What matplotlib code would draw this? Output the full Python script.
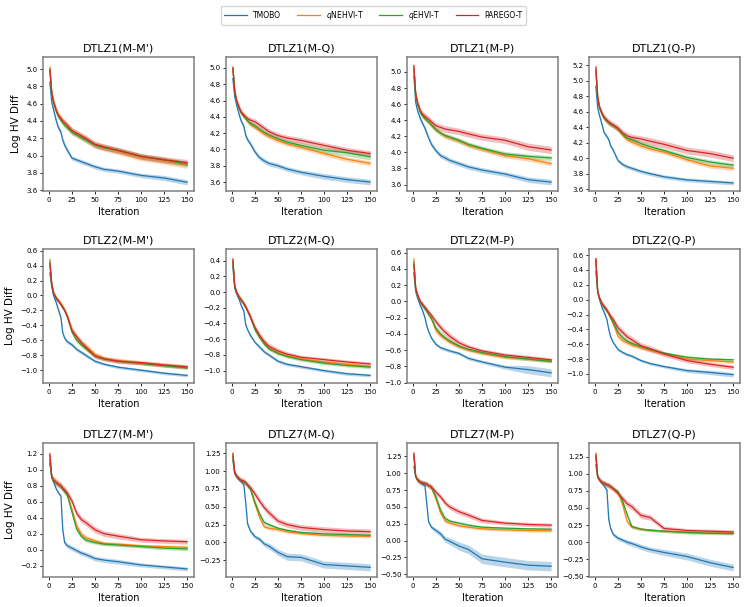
import matplotlib
matplotlib.use('Agg')
import matplotlib.pyplot as plt
from matplotlib.ticker import MultipleLocator
import numpy as np

iters = [1, 3, 5, 8, 10, 13, 15, 17, 20, 25, 30, 35, 40, 50, 60, 75, 100, 125, 150]

methods = ['TMOBO', '$q$NEHVI-T', '$q$EHVI-T', 'PAREGO-T']
colors = ['tab:blue', 'tab:orange', 'tab:green', 'tab:red']

titles = ["DTLZ1(M-M')", "DTLZ1(M-Q)", "DTLZ1(M-P)", "DTLZ1(Q-P)",
          "DTLZ2(M-M')", "DTLZ2(M-Q)", "DTLZ2(M-P)", "DTLZ2(Q-P)",
          "DTLZ7(M-M')", "DTLZ7(M-Q)", "DTLZ7(M-P)", "DTLZ7(Q-P)"]
ytick_step = [0.2, 0.2, 0.2, 0.2, 0.2, 0.2, 0.2, 0.2, 0.2, 0.25, 0.25, 0.25]

# ---- DTLZ1 (M-M') ----
d1mm_tm = [4.85, 4.62, 4.53, 4.40, 4.33, 4.27, 4.18, 4.12, 4.06, 3.97, 3.95, 3.93, 3.91, 3.87, 3.84, 3.82, 3.77, 3.74, 3.69]
d1mm_ne = [5.02, 4.74, 4.63, 4.52, 4.47, 4.42, 4.40, 4.37, 4.34, 4.28, 4.25, 4.22, 4.19, 4.12, 4.09, 4.05, 3.98, 3.94, 3.89]
d1mm_eh = [4.98, 4.72, 4.61, 4.51, 4.46, 4.41, 4.38, 4.35, 4.32, 4.27, 4.24, 4.21, 4.18, 4.12, 4.09, 4.06, 3.99, 3.95, 3.90]
d1mm_pa = [5.00, 4.73, 4.62, 4.52, 4.47, 4.43, 4.40, 4.38, 4.35, 4.29, 4.26, 4.23, 4.20, 4.13, 4.10, 4.06, 3.99, 3.95, 3.92]
d1mm_tm_b = [0.05, 0.04, 0.03, 0.03, 0.03, 0.03, 0.03, 0.03, 0.03, 0.025, 0.025, 0.025, 0.025, 0.025, 0.025, 0.025, 0.025, 0.03, 0.03]
d1mm_ne_b = [0.05, 0.04, 0.04, 0.04, 0.04, 0.04, 0.04, 0.04, 0.04, 0.04, 0.04, 0.04, 0.04, 0.04, 0.04, 0.04, 0.04, 0.04, 0.04]
d1mm_eh_b = [0.05, 0.03, 0.03, 0.03, 0.03, 0.03, 0.03, 0.03, 0.03, 0.03, 0.03, 0.03, 0.03, 0.03, 0.03, 0.03, 0.03, 0.03, 0.03]
d1mm_pa_b = [0.05, 0.035, 0.035, 0.035, 0.035, 0.035, 0.035, 0.035, 0.035, 0.035, 0.035, 0.035, 0.035, 0.035, 0.035, 0.035, 0.035, 0.035, 0.035]

# ---- DTLZ1 (M-Q) ----
d1mq_tm = [4.87, 4.65, 4.55, 4.42, 4.35, 4.28, 4.17, 4.12, 4.07, 3.97, 3.90, 3.86, 3.83, 3.80, 3.76, 3.72, 3.67, 3.63, 3.60]
d1mq_ne = [5.01, 4.72, 4.60, 4.50, 4.45, 4.41, 4.38, 4.35, 4.31, 4.27, 4.23, 4.19, 4.16, 4.11, 4.07, 4.03, 3.95, 3.88, 3.83]
d1mq_eh = [4.99, 4.71, 4.59, 4.50, 4.45, 4.41, 4.38, 4.35, 4.32, 4.29, 4.25, 4.21, 4.18, 4.13, 4.09, 4.05, 3.99, 3.96, 3.91]
d1mq_pa = [5.00, 4.72, 4.60, 4.51, 4.46, 4.42, 4.40, 4.38, 4.36, 4.34, 4.30, 4.26, 4.22, 4.17, 4.14, 4.11, 4.05, 3.99, 3.95]
d1mq_tm_b = [0.05, 0.04, 0.03, 0.03, 0.03, 0.03, 0.03, 0.03, 0.03, 0.03, 0.03, 0.03, 0.03, 0.03, 0.03, 0.03, 0.035, 0.035, 0.035]
d1mq_ne_b = [0.05, 0.03, 0.03, 0.03, 0.03, 0.03, 0.03, 0.03, 0.03, 0.03, 0.03, 0.03, 0.03, 0.03, 0.03, 0.03, 0.03, 0.03, 0.03]
d1mq_eh_b = [0.05, 0.03, 0.03, 0.03, 0.03, 0.03, 0.03, 0.03, 0.03, 0.03, 0.03, 0.03, 0.03, 0.03, 0.03, 0.035, 0.035, 0.04, 0.04]
d1mq_pa_b = [0.05, 0.035, 0.035, 0.035, 0.035, 0.035, 0.035, 0.035, 0.035, 0.035, 0.035, 0.035, 0.035, 0.035, 0.035, 0.035, 0.035, 0.035, 0.035]

# ---- DTLZ1 (M-P) ----
d1mp_tm = [4.95, 4.62, 4.52, 4.42, 4.37, 4.30, 4.24, 4.18, 4.10, 4.02, 3.96, 3.93, 3.90, 3.86, 3.82, 3.78, 3.73, 3.66, 3.63]
d1mp_ne = [5.06, 4.72, 4.60, 4.50, 4.46, 4.42, 4.40, 4.38, 4.34, 4.28, 4.24, 4.20, 4.18, 4.14, 4.09, 4.04, 3.96, 3.92, 3.86]
d1mp_eh = [5.04, 4.71, 4.60, 4.50, 4.46, 4.42, 4.40, 4.38, 4.34, 4.28, 4.24, 4.21, 4.19, 4.15, 4.10, 4.05, 3.98, 3.95, 3.93]
d1mp_pa = [5.08, 4.73, 4.62, 4.52, 4.48, 4.45, 4.43, 4.41, 4.38, 4.33, 4.31, 4.29, 4.28, 4.26, 4.23, 4.19, 4.15, 4.07, 4.03]
d1mp_tm_b = [0.04, 0.04, 0.03, 0.03, 0.03, 0.03, 0.03, 0.03, 0.03, 0.03, 0.03, 0.03, 0.03, 0.03, 0.03, 0.03, 0.03, 0.035, 0.035]
d1mp_ne_b = [0.03, 0.03, 0.03, 0.03, 0.03, 0.03, 0.03, 0.03, 0.03, 0.03, 0.03, 0.03, 0.03, 0.03, 0.03, 0.03, 0.03, 0.03, 0.03]
d1mp_eh_b = [0.03, 0.03, 0.03, 0.03, 0.03, 0.03, 0.03, 0.03, 0.03, 0.03, 0.03, 0.03, 0.03, 0.03, 0.03, 0.03, 0.03, 0.03, 0.03]
d1mp_pa_b = [0.03, 0.04, 0.04, 0.04, 0.04, 0.04, 0.04, 0.04, 0.04, 0.04, 0.04, 0.04, 0.04, 0.04, 0.04, 0.04, 0.04, 0.045, 0.045]

# ---- DTLZ1 (Q-P) ----
d1qp_tm = [4.93, 4.65, 4.55, 4.42, 4.33, 4.28, 4.24, 4.16, 4.10, 3.97, 3.92, 3.89, 3.87, 3.83, 3.80, 3.76, 3.72, 3.70, 3.68]
d1qp_ne = [5.15, 4.78, 4.65, 4.56, 4.52, 4.48, 4.46, 4.44, 4.42, 4.37, 4.30, 4.24, 4.21, 4.16, 4.12, 4.08, 3.98, 3.90, 3.87]
d1qp_eh = [5.12, 4.77, 4.65, 4.56, 4.52, 4.48, 4.46, 4.44, 4.42, 4.38, 4.31, 4.26, 4.24, 4.19, 4.15, 4.10, 4.01, 3.95, 3.91]
d1qp_pa = [5.18, 4.79, 4.66, 4.57, 4.53, 4.49, 4.47, 4.45, 4.43, 4.39, 4.33, 4.29, 4.27, 4.25, 4.22, 4.18, 4.10, 4.06, 4.00]
d1qp_tm_b = [0.05, 0.03, 0.025, 0.025, 0.025, 0.025, 0.025, 0.025, 0.025, 0.025, 0.025, 0.025, 0.025, 0.025, 0.025, 0.025, 0.025, 0.025, 0.025]
d1qp_ne_b = [0.05, 0.03, 0.03, 0.03, 0.03, 0.03, 0.03, 0.03, 0.03, 0.03, 0.03, 0.03, 0.03, 0.03, 0.03, 0.03, 0.03, 0.03, 0.03]
d1qp_eh_b = [0.05, 0.03, 0.03, 0.03, 0.03, 0.03, 0.03, 0.03, 0.03, 0.03, 0.03, 0.03, 0.03, 0.03, 0.03, 0.03, 0.03, 0.03, 0.03]
d1qp_pa_b = [0.05, 0.04, 0.04, 0.04, 0.04, 0.04, 0.04, 0.04, 0.04, 0.04, 0.04, 0.04, 0.04, 0.04, 0.045, 0.045, 0.045, 0.045, 0.045]

# ---- DTLZ2 (M-M') ----
d2mm_tm = [0.30, 0.12, 0.00, -0.10, -0.18, -0.30, -0.50, -0.57, -0.62, -0.66, -0.72, -0.76, -0.80, -0.88, -0.92, -0.96, -1.00, -1.04, -1.07]
d2mm_ne = [0.48, 0.16, 0.04, -0.03, -0.06, -0.11, -0.15, -0.19, -0.28, -0.46, -0.56, -0.63, -0.68, -0.79, -0.84, -0.87, -0.90, -0.93, -0.955]
d2mm_eh = [0.45, 0.15, 0.03, -0.04, -0.07, -0.12, -0.16, -0.20, -0.29, -0.49, -0.60, -0.66, -0.71, -0.81, -0.85, -0.88, -0.91, -0.94, -0.97]
d2mm_pa = [0.42, 0.15, 0.03, -0.04, -0.07, -0.12, -0.16, -0.20, -0.28, -0.47, -0.55, -0.63, -0.69, -0.81, -0.85, -0.88, -0.90, -0.93, -0.955]
d2mm_tm_b = [0.04, 0.03, 0.025, 0.025, 0.025, 0.025, 0.025, 0.025, 0.025, 0.025, 0.025, 0.025, 0.025, 0.02, 0.02, 0.02, 0.02, 0.02, 0.02]
d2mm_ne_b = [0.06, 0.04, 0.03, 0.03, 0.03, 0.03, 0.03, 0.03, 0.03, 0.04, 0.04, 0.04, 0.04, 0.035, 0.03, 0.03, 0.03, 0.03, 0.03]
d2mm_eh_b = [0.05, 0.03, 0.025, 0.025, 0.025, 0.025, 0.025, 0.025, 0.025, 0.03, 0.03, 0.03, 0.03, 0.025, 0.02, 0.02, 0.02, 0.02, 0.02]
d2mm_pa_b = [0.05, 0.04, 0.03, 0.03, 0.03, 0.03, 0.03, 0.03, 0.035, 0.04, 0.04, 0.04, 0.04, 0.035, 0.03, 0.03, 0.025, 0.025, 0.025]

# ---- DTLZ2 (M-Q) ----
d2mq_tm = [0.33, 0.05, -0.02, -0.10, -0.17, -0.25, -0.42, -0.48, -0.55, -0.64, -0.70, -0.76, -0.80, -0.88, -0.92, -0.95, -1.00, -1.04, -1.06]
d2mq_ne = [0.40, 0.07, -0.01, -0.07, -0.10, -0.15, -0.19, -0.24, -0.32, -0.47, -0.57, -0.65, -0.71, -0.77, -0.81, -0.85, -0.89, -0.92, -0.945]
d2mq_eh = [0.38, 0.07, -0.01, -0.07, -0.10, -0.15, -0.19, -0.24, -0.32, -0.48, -0.58, -0.66, -0.72, -0.78, -0.82, -0.86, -0.905, -0.935, -0.955]
d2mq_pa = [0.42, 0.08, 0.00, -0.07, -0.10, -0.15, -0.19, -0.24, -0.31, -0.45, -0.55, -0.63, -0.69, -0.75, -0.79, -0.83, -0.86, -0.89, -0.915]
d2mq_tm_b = [0.04, 0.025, 0.02, 0.02, 0.02, 0.02, 0.02, 0.02, 0.02, 0.02, 0.02, 0.02, 0.02, 0.02, 0.02, 0.02, 0.02, 0.02, 0.02]
d2mq_ne_b = [0.05, 0.03, 0.03, 0.03, 0.03, 0.03, 0.03, 0.03, 0.03, 0.03, 0.03, 0.03, 0.03, 0.03, 0.025, 0.02, 0.02, 0.02, 0.02]
d2mq_eh_b = [0.05, 0.03, 0.025, 0.025, 0.025, 0.025, 0.025, 0.025, 0.025, 0.025, 0.025, 0.025, 0.025, 0.02, 0.02, 0.02, 0.02, 0.02, 0.02]
d2mq_pa_b = [0.05, 0.035, 0.03, 0.03, 0.03, 0.03, 0.03, 0.03, 0.03, 0.035, 0.035, 0.04, 0.04, 0.035, 0.03, 0.025, 0.025, 0.025, 0.025]

# ---- DTLZ2 (M-P) ----
d2mp_tm = [0.35, 0.12, 0.04, -0.05, -0.10, -0.20, -0.30, -0.37, -0.45, -0.53, -0.57, -0.59, -0.61, -0.64, -0.70, -0.745, -0.81, -0.84, -0.88]
d2mp_ne = [0.52, 0.15, 0.07, -0.01, -0.04, -0.09, -0.12, -0.16, -0.21, -0.36, -0.42, -0.46, -0.50, -0.56, -0.60, -0.64, -0.69, -0.71, -0.73]
d2mp_eh = [0.48, 0.15, 0.07, -0.01, -0.04, -0.09, -0.12, -0.16, -0.21, -0.33, -0.40, -0.45, -0.49, -0.55, -0.59, -0.63, -0.68, -0.71, -0.74]
d2mp_pa = [0.45, 0.16, 0.08, 0.00, -0.03, -0.07, -0.10, -0.13, -0.17, -0.25, -0.32, -0.38, -0.43, -0.51, -0.56, -0.61, -0.66, -0.69, -0.72]
d2mp_tm_b = [0.04, 0.025, 0.02, 0.02, 0.02, 0.02, 0.02, 0.02, 0.02, 0.02, 0.02, 0.02, 0.02, 0.02, 0.02, 0.02, 0.025, 0.05, 0.05]
d2mp_ne_b = [0.05, 0.03, 0.03, 0.03, 0.03, 0.03, 0.03, 0.03, 0.03, 0.04, 0.03, 0.03, 0.03, 0.025, 0.02, 0.02, 0.02, 0.02, 0.02]
d2mp_eh_b = [0.05, 0.03, 0.025, 0.025, 0.025, 0.025, 0.025, 0.025, 0.025, 0.03, 0.03, 0.025, 0.025, 0.02, 0.02, 0.02, 0.02, 0.02, 0.02]
d2mp_pa_b = [0.05, 0.035, 0.03, 0.03, 0.03, 0.03, 0.03, 0.03, 0.03, 0.035, 0.04, 0.04, 0.04, 0.035, 0.03, 0.025, 0.025, 0.025, 0.025]

# ---- DTLZ2 (Q-P) ----
d2qp_tm = [0.38, 0.11, 0.00, -0.12, -0.17, -0.27, -0.40, -0.50, -0.58, -0.67, -0.71, -0.74, -0.76, -0.82, -0.86, -0.90, -0.955, -0.98, -1.01]
d2qp_ne = [0.55, 0.10, 0.01, -0.07, -0.10, -0.15, -0.20, -0.25, -0.33, -0.49, -0.55, -0.58, -0.61, -0.65, -0.68, -0.73, -0.80, -0.82, -0.84]
d2qp_eh = [0.52, 0.10, 0.01, -0.07, -0.10, -0.15, -0.19, -0.24, -0.31, -0.44, -0.51, -0.56, -0.59, -0.63, -0.67, -0.72, -0.775, -0.80, -0.81]
d2qp_pa = [0.55, 0.10, 0.02, -0.06, -0.09, -0.14, -0.18, -0.22, -0.27, -0.38, -0.44, -0.50, -0.54, -0.62, -0.66, -0.73, -0.82, -0.87, -0.91]
d2qp_tm_b = [0.04, 0.025, 0.02, 0.02, 0.02, 0.02, 0.02, 0.02, 0.02, 0.02, 0.02, 0.02, 0.02, 0.02, 0.02, 0.02, 0.025, 0.03, 0.03]
d2qp_ne_b = [0.05, 0.04, 0.035, 0.035, 0.035, 0.035, 0.035, 0.035, 0.035, 0.035, 0.03, 0.03, 0.03, 0.025, 0.025, 0.02, 0.02, 0.02, 0.02]
d2qp_eh_b = [0.05, 0.03, 0.025, 0.025, 0.025, 0.025, 0.025, 0.025, 0.025, 0.025, 0.025, 0.025, 0.025, 0.02, 0.02, 0.02, 0.02, 0.02, 0.02]
d2qp_pa_b = [0.05, 0.04, 0.035, 0.035, 0.035, 0.035, 0.035, 0.035, 0.04, 0.045, 0.045, 0.045, 0.045, 0.04, 0.04, 0.035, 0.03, 0.03, 0.03]

# ---- DTLZ7 (M-M') ----
d7mm_tm = [1.08, 0.93, 0.85, 0.76, 0.72, 0.67, 0.25, 0.09, 0.05, 0.02, -0.01, -0.04, -0.06, -0.11, -0.13, -0.15, -0.19, -0.215, -0.24]
d7mm_ne = [1.18, 0.91, 0.88, 0.85, 0.83, 0.80, 0.77, 0.74, 0.69, 0.50, 0.30, 0.20, 0.15, 0.11, 0.08, 0.07, 0.05, 0.04, 0.03]
d7mm_eh = [1.12, 0.90, 0.87, 0.84, 0.82, 0.79, 0.76, 0.73, 0.68, 0.47, 0.26, 0.17, 0.12, 0.09, 0.07, 0.06, 0.04, 0.02, 0.01]
d7mm_pa = [1.20, 0.90, 0.87, 0.84, 0.82, 0.80, 0.77, 0.75, 0.71, 0.61, 0.46, 0.38, 0.34, 0.25, 0.20, 0.17, 0.125, 0.11, 0.10]
d7mm_tm_b = [0.05, 0.03, 0.03, 0.02, 0.02, 0.02, 0.03, 0.03, 0.03, 0.03, 0.03, 0.03, 0.03, 0.03, 0.03, 0.03, 0.025, 0.025, 0.025]
d7mm_ne_b = [0.08, 0.04, 0.04, 0.04, 0.04, 0.04, 0.04, 0.04, 0.04, 0.04, 0.04, 0.03, 0.03, 0.03, 0.025, 0.025, 0.02, 0.02, 0.02]
d7mm_eh_b = [0.06, 0.03, 0.03, 0.03, 0.03, 0.03, 0.03, 0.03, 0.03, 0.03, 0.03, 0.025, 0.025, 0.02, 0.02, 0.02, 0.02, 0.02, 0.02]
d7mm_pa_b = [0.06, 0.04, 0.04, 0.04, 0.04, 0.04, 0.04, 0.04, 0.04, 0.04, 0.04, 0.04, 0.04, 0.04, 0.035, 0.035, 0.03, 0.03, 0.03]

# ---- DTLZ7 (M-Q) ----
d7mq_tm = [1.15, 0.99, 0.93, 0.88, 0.86, 0.80, 0.55, 0.26, 0.16, 0.08, 0.045, -0.02, -0.05, -0.14, -0.20, -0.21, -0.31, -0.33, -0.35]
d7mq_ne = [1.22, 0.97, 0.93, 0.89, 0.87, 0.85, 0.83, 0.80, 0.75, 0.54, 0.35, 0.22, 0.20, 0.18, 0.15, 0.125, 0.10, 0.09, 0.085]
d7mq_eh = [1.20, 0.97, 0.93, 0.89, 0.87, 0.85, 0.83, 0.80, 0.75, 0.56, 0.40, 0.28, 0.25, 0.20, 0.17, 0.14, 0.12, 0.11, 0.10]
d7mq_pa = [1.25, 0.97, 0.93, 0.89, 0.87, 0.86, 0.84, 0.81, 0.77, 0.68, 0.58, 0.49, 0.42, 0.30, 0.25, 0.21, 0.18, 0.16, 0.15]
d7mq_tm_b = [0.05, 0.03, 0.03, 0.02, 0.02, 0.02, 0.03, 0.03, 0.03, 0.03, 0.03, 0.035, 0.04, 0.045, 0.05, 0.05, 0.05, 0.05, 0.05]
d7mq_ne_b = [0.06, 0.03, 0.03, 0.03, 0.03, 0.03, 0.03, 0.03, 0.03, 0.04, 0.03, 0.025, 0.025, 0.02, 0.02, 0.02, 0.02, 0.02, 0.02]
d7mq_eh_b = [0.06, 0.03, 0.03, 0.03, 0.03, 0.03, 0.03, 0.03, 0.03, 0.04, 0.035, 0.03, 0.025, 0.02, 0.02, 0.02, 0.02, 0.02, 0.02]
d7mq_pa_b = [0.06, 0.04, 0.04, 0.04, 0.04, 0.04, 0.04, 0.04, 0.04, 0.045, 0.045, 0.045, 0.045, 0.04, 0.04, 0.04, 0.04, 0.04, 0.04]

# ---- DTLZ7 (M-P) ----
d7mp_tm = [1.10, 0.95, 0.91, 0.87, 0.84, 0.82, 0.55, 0.28, 0.20, 0.15, 0.10, 0.02, -0.01, -0.08, -0.13, -0.27, -0.32, -0.365, -0.38]
d7mp_ne = [1.28, 0.95, 0.90, 0.87, 0.86, 0.85, 0.84, 0.82, 0.79, 0.62, 0.41, 0.29, 0.26, 0.22, 0.20, 0.175, 0.16, 0.15, 0.145]
d7mp_eh = [1.25, 0.95, 0.90, 0.87, 0.86, 0.85, 0.84, 0.82, 0.79, 0.65, 0.45, 0.33, 0.29, 0.26, 0.23, 0.20, 0.185, 0.175, 0.17]
d7mp_pa = [1.30, 0.95, 0.90, 0.87, 0.86, 0.85, 0.84, 0.82, 0.80, 0.72, 0.65, 0.56, 0.50, 0.43, 0.38, 0.30, 0.26, 0.24, 0.23]
d7mp_tm_b = [0.05, 0.03, 0.03, 0.02, 0.02, 0.02, 0.03, 0.03, 0.03, 0.035, 0.04, 0.045, 0.05, 0.06, 0.065, 0.07, 0.07, 0.07, 0.07]
d7mp_ne_b = [0.06, 0.03, 0.03, 0.03, 0.03, 0.03, 0.03, 0.03, 0.03, 0.04, 0.035, 0.025, 0.025, 0.02, 0.02, 0.02, 0.02, 0.02, 0.02]
d7mp_eh_b = [0.06, 0.03, 0.03, 0.03, 0.03, 0.03, 0.03, 0.03, 0.03, 0.04, 0.035, 0.03, 0.025, 0.025, 0.025, 0.02, 0.02, 0.02, 0.02]
d7mp_pa_b = [0.06, 0.04, 0.04, 0.04, 0.04, 0.04, 0.04, 0.04, 0.04, 0.04, 0.04, 0.04, 0.04, 0.04, 0.04, 0.035, 0.03, 0.03, 0.03]

# ---- DTLZ7 (Q-P) ----
d7qp_tm = [1.13, 0.95, 0.91, 0.86, 0.82, 0.76, 0.33, 0.20, 0.11, 0.06, 0.03, 0.00, -0.02, -0.07, -0.11, -0.15, -0.21, -0.30, -0.37]
d7qp_ne = [1.30, 0.95, 0.91, 0.87, 0.86, 0.84, 0.83, 0.81, 0.78, 0.73, 0.55, 0.30, 0.22, 0.19, 0.175, 0.16, 0.15, 0.14, 0.135]
d7qp_eh = [1.25, 0.95, 0.91, 0.87, 0.86, 0.84, 0.83, 0.81, 0.78, 0.74, 0.60, 0.40, 0.23, 0.19, 0.175, 0.16, 0.14, 0.13, 0.125]
d7qp_pa = [1.28, 0.95, 0.91, 0.87, 0.86, 0.84, 0.83, 0.81, 0.78, 0.71, 0.64, 0.56, 0.52, 0.39, 0.36, 0.20, 0.17, 0.16, 0.15]
d7qp_tm_b = [0.05, 0.03, 0.03, 0.02, 0.02, 0.02, 0.03, 0.03, 0.03, 0.03, 0.03, 0.035, 0.035, 0.04, 0.04, 0.045, 0.05, 0.05, 0.05]
d7qp_ne_b = [0.06, 0.03, 0.03, 0.03, 0.03, 0.03, 0.03, 0.03, 0.03, 0.03, 0.04, 0.03, 0.025, 0.02, 0.02, 0.02, 0.02, 0.02, 0.02]
d7qp_eh_b = [0.06, 0.03, 0.03, 0.03, 0.03, 0.03, 0.03, 0.03, 0.03, 0.03, 0.04, 0.03, 0.025, 0.02, 0.02, 0.02, 0.02, 0.02, 0.02]
d7qp_pa_b = [0.06, 0.04, 0.04, 0.04, 0.04, 0.04, 0.04, 0.04, 0.04, 0.04, 0.045, 0.045, 0.045, 0.045, 0.04, 0.035, 0.03, 0.03, 0.03]

panels = [
    (d1mm_tm, d1mm_ne, d1mm_eh, d1mm_pa), (d1mq_tm, d1mq_ne, d1mq_eh, d1mq_pa),
    (d1mp_tm, d1mp_ne, d1mp_eh, d1mp_pa), (d1qp_tm, d1qp_ne, d1qp_eh, d1qp_pa),
    (d2mm_tm, d2mm_ne, d2mm_eh, d2mm_pa), (d2mq_tm, d2mq_ne, d2mq_eh, d2mq_pa),
    (d2mp_tm, d2mp_ne, d2mp_eh, d2mp_pa), (d2qp_tm, d2qp_ne, d2qp_eh, d2qp_pa),
    (d7mm_tm, d7mm_ne, d7mm_eh, d7mm_pa), (d7mq_tm, d7mq_ne, d7mq_eh, d7mq_pa),
    (d7mp_tm, d7mp_ne, d7mp_eh, d7mp_pa), (d7qp_tm, d7qp_ne, d7qp_eh, d7qp_pa),
]
bands = [
    (d1mm_tm_b, d1mm_ne_b, d1mm_eh_b, d1mm_pa_b), (d1mq_tm_b, d1mq_ne_b, d1mq_eh_b, d1mq_pa_b),
    (d1mp_tm_b, d1mp_ne_b, d1mp_eh_b, d1mp_pa_b), (d1qp_tm_b, d1qp_ne_b, d1qp_eh_b, d1qp_pa_b),
    (d2mm_tm_b, d2mm_ne_b, d2mm_eh_b, d2mm_pa_b), (d2mq_tm_b, d2mq_ne_b, d2mq_eh_b, d2mq_pa_b),
    (d2mp_tm_b, d2mp_ne_b, d2mp_eh_b, d2mp_pa_b), (d2qp_tm_b, d2qp_ne_b, d2qp_eh_b, d2qp_pa_b),
    (d7mm_tm_b, d7mm_ne_b, d7mm_eh_b, d7mm_pa_b), (d7mq_tm_b, d7mq_ne_b, d7mq_eh_b, d7mq_pa_b),
    (d7mp_tm_b, d7mp_ne_b, d7mp_eh_b, d7mp_pa_b), (d7qp_tm_b, d7qp_ne_b, d7qp_eh_b, d7qp_pa_b),
]

W, H = 747, 607
fig = plt.figure(figsize=(W / 100, H / 100), dpi=100)

# axes boxes in pixels
col_left = [43, 226, 407, 589]
ax_w = 151
rows_px = [(57, 191), (249, 383), (443, 577)]

x = np.array(iters)
for k in range(12):
    r, c = divmod(k, 4)
    top, bot = rows_px[r]
    ax = fig.add_axes([col_left[c] / W, 1 - bot / H, ax_w / W, (bot - top) / H])
    for m in range(4):
        y = np.array(panels[k][m])
        b = np.array(bands[k][m])
        ax.fill_between(x, y - b, y + b, color=colors[m], alpha=0.3, linewidth=0)
        ax.plot(x, y, color=colors[m], linewidth=0.9, label=methods[m])
    ax.set_title(titles[k], fontsize=8, pad=4)
    ax.set_xlabel('Iteration', fontsize=7, labelpad=3)
    if c == 0:
        ax.set_ylabel('Log HV Diff', fontsize=7.5)
    ax.set_xticks([0, 25, 50, 75, 100, 125, 150])
    ax.yaxis.set_major_locator(MultipleLocator(ytick_step[k]))
    ax.tick_params(labelsize=5, length=2.5, width=0.6, pad=1.5)
    for sp in ax.spines.values():
        sp.set_color('#808080')
        sp.set_linewidth(1.1)
    if k == 0:
        handles, labels = ax.get_legend_handles_labels()

fig.legend(handles, labels, loc='upper center', bbox_to_anchor=(0.5, 0.997), ncol=4,
           fontsize=5.5, frameon=True, handlelength=3, columnspacing=2)

plt.savefig('out.png', dpi=100)
